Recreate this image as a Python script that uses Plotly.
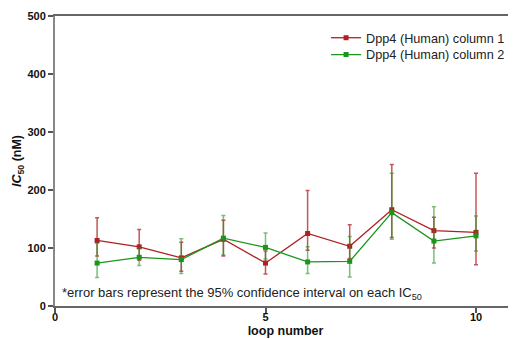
import plotly.graph_objects as go

loops = [1, 2, 3, 4, 5, 6, 7, 8, 9, 10]

col1_ic50 = [113, 102, 83, 115, 74, 125, 103, 166, 130, 127]
col1_upper = [152, 132, 110, 148, 95, 199, 140, 244, 153, 229]
col1_lower = [86, 79, 60, 86, 55, 96, 82, 118, 100, 71]

col2_ic50 = [74, 84, 80, 117, 101, 76, 77, 161, 112, 121]
col2_upper = [108, 100, 116, 156, 126, 102, 120, 229, 171, 155]
col2_lower = [49, 70, 56, 88, 81, 56, 50, 115, 74, 95]

red = "#b01f24"
green = "#1a961a"
FONT = "Liberation Sans, Arial, sans-serif"

def err(vals, up, lo):
    return [u - v for u, v in zip(up, vals)], [v - l for v, l in zip(vals, lo)]

fig = go.Figure()
for name, vals, up, lo, col, ecol, leg in [
    ("Dpp4 (Human) column 1", col1_ic50, col1_upper, col1_lower, red, "rgba(176,31,36,0.75)", "legend"),
    ("Dpp4 (Human) column 2", col2_ic50, col2_upper, col2_lower, green, "rgba(26,150,26,0.6)", "legend2"),
]:
    e_up, e_lo = err(vals, up, lo)
    fig.add_trace(go.Scatter(
        x=loops, y=vals, name=name, mode="lines+markers", legend=leg, showlegend=True,
        line=dict(color=col, width=1.3),
        marker=dict(symbol="square", size=5, color=col),
        error_y=dict(type="data", symmetric=False, array=e_up, arrayminus=e_lo,
                     color=ecol, thickness=1.5, width=2),
    ))

fig.add_annotation(
    x=0.12, y=21.9, xref="x", yref="y", xanchor="left", yanchor="middle",
    text="*error bars represent the 95% confidence interval on each IC<sub>50</sub>",
    showarrow=False, font=dict(family=FONT, size=13, color="#222"),
)

legfont = dict(family=FONT, size=12.7, color="#222")
# page body has an 8px margin: shift plot area so it lands where the reference has it
fig.update_layout(
    width=516, height=339, showlegend=True,
    margin=dict(l=47, r=8, t=7.5, b=41.3),
    paper_bgcolor="white", plot_bgcolor="white",
    font=dict(family=FONT, color="#111"),
    legend=dict(x=0.588, y=0.976, xanchor="left", yanchor="top",
                font=legfont, bgcolor="rgba(0,0,0,0)"),
    legend2=dict(x=0.588, y=0.918, xanchor="left", yanchor="top",
                 font=legfont, bgcolor="rgba(0,0,0,0)"),
    xaxis=dict(range=[0, 10.95], tickvals=[0, 5, 10], ticks="outside", ticklen=5,
               tickwidth=1.5, tickcolor="#555", automargin=False, ticklabelstandoff=-5,
               showline=True, linecolor="#666", linewidth=1.5, mirror=True,
               showgrid=False, zeroline=False,
               tickfont=dict(family=FONT, size=11, color="#111", weight="bold"),
               title=dict(text="<b>loop number</b>", font=dict(family=FONT, size=12.5), standoff=4)),
    yaxis=dict(range=[0, 500], tickvals=[0, 100, 200, 300, 400, 500], ticks="outside",
               ticklen=5, tickwidth=1.5, tickcolor="#555", automargin=False,
               showline=True, linecolor="#888", linewidth=2, showgrid=False, zeroline=False,
               tickfont=dict(family=FONT, size=11, color="#111", weight="bold"),
               title=dict(text="<b><i>IC</i><sub>50</sub> (nM)</b>", font=dict(family=FONT, size=12.5), standoff=3)),
)

fig.write_html("out.html")
